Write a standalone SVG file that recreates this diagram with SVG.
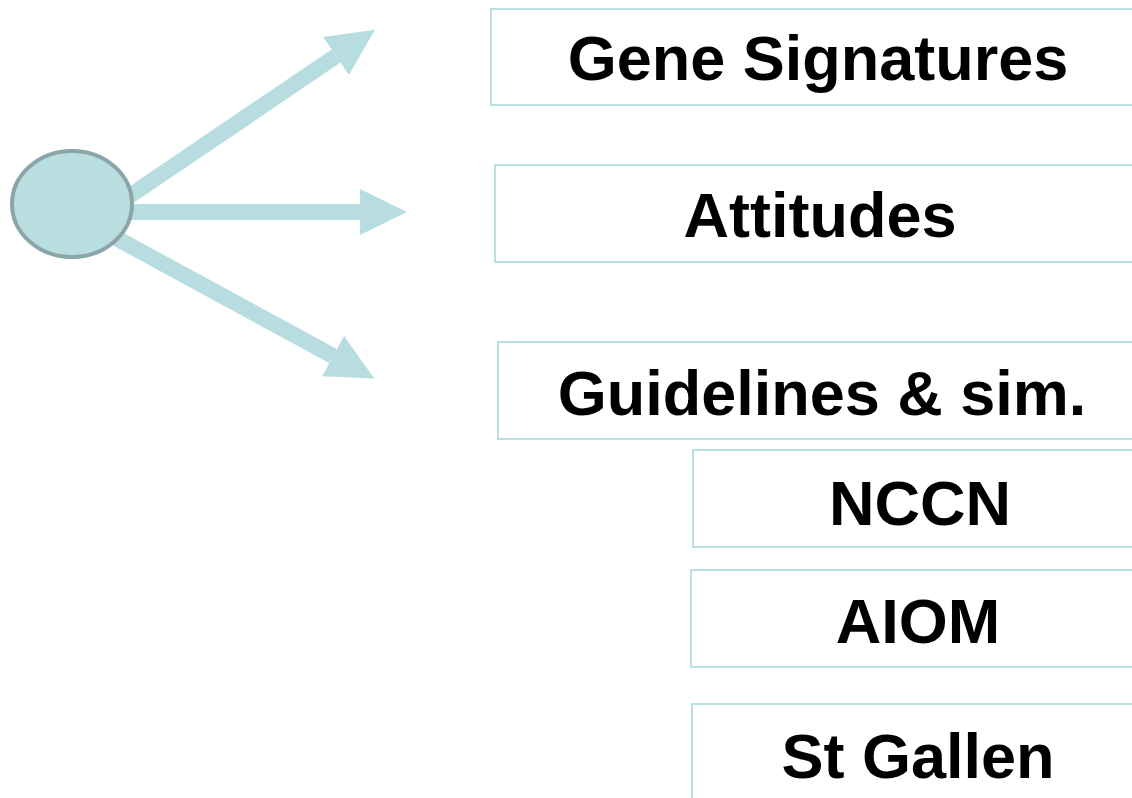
<svg xmlns="http://www.w3.org/2000/svg" width="1132" height="798" viewBox="0 0 1132 798">
<style>
.box{fill:#ffffff;stroke:#b9dfe2;stroke-width:2}
.lbl{font-family:"Liberation Sans",Arial,sans-serif;font-weight:bold;font-size:63px;fill:#000;text-anchor:middle}
.conn{stroke:#b8dde0;stroke-width:16;fill:none}
</style>
<defs>
<marker id="head" markerUnits="userSpaceOnUse" markerWidth="48" markerHeight="48" viewBox="0 0 48 48" refX="0" refY="24" orient="auto">
<path d="M0,1 L47,24 L0,47 Z" fill="#b8dde0"/>
</marker>
</defs>
<g id="connectors">
<line class="conn" x1="100" y1="216" x2="336" y2="56" marker-end="url(#head)"/>
<line class="conn" x1="90" y1="212" x2="360" y2="212" marker-end="url(#head)"/>
<line class="conn" x1="105" y1="232" x2="333" y2="356" marker-end="url(#head)"/>
</g>
<g id="source">
<ellipse cx="72" cy="204" rx="60" ry="53" fill="#b8dee0" stroke="#8aa6a8" stroke-width="4"/>
</g>
<g id="gene-signatures">
<rect class="box" x="491" y="9" width="700" height="96"/>
<text class="lbl" x="818" y="80">Gene Signatures</text>
</g>
<g id="attitudes">
<rect class="box" x="495" y="165" width="700" height="97"/>
<text class="lbl" x="820" y="237">Attitudes</text>
</g>
<g id="guidelines">
<rect class="box" x="498" y="342" width="700" height="97"/>
<text class="lbl" x="822" y="415">Guidelines &amp; sim.</text>
</g>
<g id="nccn">
<rect class="box" x="693" y="450" width="500" height="97"/>
<text class="lbl" x="920" y="525">NCCN</text>
</g>
<g id="aiom">
<rect class="box" x="691" y="570" width="500" height="97"/>
<text class="lbl" x="918" y="643">AIOM</text>
</g>
<g id="st-gallen">
<rect class="box" x="692" y="704" width="500" height="120"/>
<text class="lbl" x="918" y="778">St Gallen</text>
</g>
</svg>
